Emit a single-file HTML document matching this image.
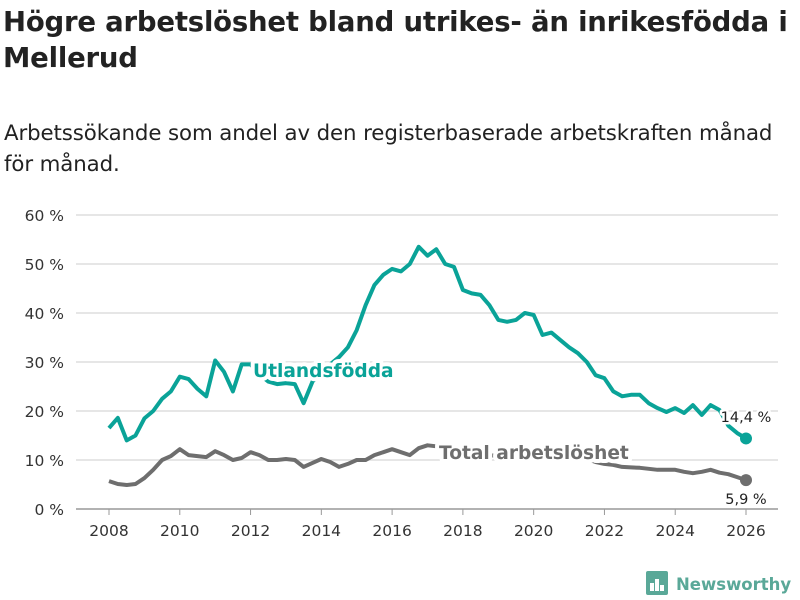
<!DOCTYPE html>
<html><head><meta charset="utf-8"><style>
body{margin:0;width:800px;height:600px;background:#fff;font-family:"DejaVu Sans",sans-serif;overflow:hidden;position:relative}
h1{position:absolute;left:3px;top:4px;margin:0;font-size:27.5px;line-height:36px;font-weight:bold;color:#222;letter-spacing:-0.2px}
p{position:absolute;left:4px;top:118px;margin:0;font-size:21.3px;line-height:31px;color:#222;letter-spacing:-0.1px}
svg{position:absolute;left:0;top:0;font-family:"DejaVu Sans",sans-serif}
</style></head><body>
<h1>Högre arbetslöshet bland utrikes- än inrikesfödda i<br>Mellerud</h1>
<p>Arbetssökande som andel av den registerbaserade arbetskraften månad<br>för månad.</p>
<svg id="c" width="800" height="600"></svg>
<script>
const years=[2008,2010,2012,2014,2016,2018,2020,2022,2024,2026];
const yTicks=[0,10,20,30,40,50,60];
const startYear=2008, step=0.25;
const foreign=[16.5,18.6,14,15,18.5,20,22.5,24,27,26.5,24.5,23,30.3,28,24,29.5,29.5,27.5,26,25.5,25.7,25.5,21.6,26,28,29.5,31,33,36.5,41.6,45.7,47.8,49,48.5,50,53.5,51.7,53,50,49.4,44.7,44,43.7,41.6,38.6,38.2,38.6,40,39.6,35.5,36,34.5,33,31.8,30,27.3,26.7,24,23,23.3,23.3,21.6,20.6,19.8,20.6,19.6,21.2,19.2,21.2,20.2,17,15.5,14.4];
const total=[5.7,5.1,4.9,5.1,6.3,8,10,10.8,12.2,11,10.8,10.6,11.8,11,10,10.4,11.6,11,10,10,10.2,10,8.6,9.4,10.2,9.6,8.6,9.2,10,10,11,11.6,12.2,11.6,11,12.4,13,12.8,12.4,12,11.8,11.5,11.2,11,10.8,10.5,10.2,10,10.5,11.5,11.8,11.4,11,10.6,10.2,9.6,9.2,9,8.6,8.5,8.4,8.2,8,8,8,7.6,7.3,7.6,8,7.4,7.1,6.5,5.9];
const X=y=>109+(y-2008)*(746-109)/18;
const Y=v=>509-v*4.9;
const s=document.getElementById('c'),NS='http://www.w3.org/2000/svg';
function mk(t,a,p){const e=document.createElementNS(NS,t);for(const k in a)e.setAttribute(k,a[k]);(p||s).appendChild(e);return e;}
yTicks.forEach(v=>{
 const l=mk('line',{x1:76,x2:778,y1:Y(v),y2:Y(v),stroke:v?'#ddd':'#999','stroke-width':1.5});
 
 
 const t=mk('text',{x:64,y:Y(v)+6,'text-anchor':'end','font-size':15.5,fill:'#333'});t.textContent=v+' %';
 
 
});
years.forEach(y=>{
 const l=mk('line',{x1:X(y),x2:X(y),y1:509,y2:515,stroke:'#999'});
 
 
 const t=mk('text',{x:X(y),y:536,'text-anchor':'middle','font-size':15.5,fill:'#333'});t.textContent=y;
 
 
});
function line(arr,col,name){
 const d=arr.map((v,i)=>(i?'L':'M')+X(startYear+i*step).toFixed(1)+','+Y(v).toFixed(1)).join('');
 const p=mk('path',{d:d,fill:'none',stroke:col,'stroke-width':4,'stroke-linejoin':'round'});
 
 
 const n=arr.length-1;
 const c=mk('circle',{cx:X(startYear+n*step),cy:Y(arr[n]),r:6,fill:col});
 
 
}
line(total,'#6e6e6e','total-line');
line(foreign,'#0aa398','foreign-line');
function lab(txt,x,y,col,size,bold,name,anchor){
 const t=mk('text',{x:x,y:y,'font-size':size,'font-weight':bold?'bold':'normal',fill:col,stroke:'#fff','stroke-width':bold?8:5,'paint-order':'stroke','text-anchor':anchor||'start','stroke-linejoin':'round'});
 t.textContent=txt;
 
 
}
lab('Utlandsfödda',253,377,'#0aa398',18.6,true,'label-utlandsfodda');
lab('Total arbetslöshet',439,459,'#6e6e6e',18.6,true,'label-total');
lab('14,4 %',746,422,'#222',14.5,false,'end-value-foreign','middle');
lab('5,9 %',746,504,'#222',14.5,false,'end-value-total','middle');
const g=mk('g',{});
mk('rect',{x:646,y:571,width:22,height:24,rx:2,fill:'#5aa898'},g);
[[650,4,8],[655,4,12],[660,4,6]].forEach(r=>mk('rect',{x:r[0],y:591-r[2],width:r[1],height:r[2],fill:'#fff'},g));
const lt=mk('text',{x:676,y:590,'font-size':16.5,'font-weight':'bold',fill:'#5aa898'},g);lt.textContent='Newsworthy';
</script>
</body></html>
